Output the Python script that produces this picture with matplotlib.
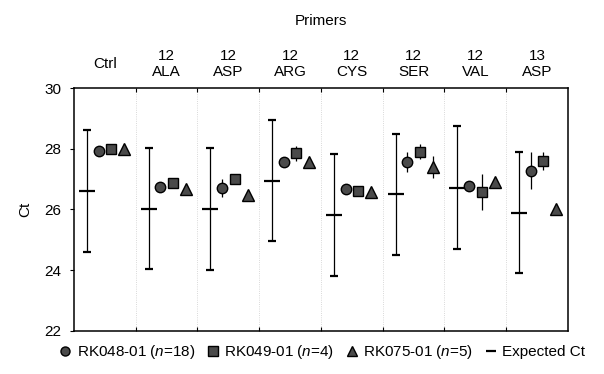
import numpy as np
import matplotlib
matplotlib.use("Agg")
import matplotlib.pyplot as plt
import matplotlib.transforms as mtransforms
from matplotlib.lines import Line2D

plt.rcParams['font.family'] = ['Liberation Sans', 'DejaVu Sans']
plt.rcParams['mathtext.fontset'] = 'custom'
plt.rcParams['mathtext.it'] = 'Liberation Sans:italic'
plt.rcParams['mathtext.rm'] = 'Liberation Sans'

### data
primers = ['Ctrl', '12\nALA', '12\nASP', '12\nARG', '12\nCYS', '12\nSER', '12\nVAL', '13\nASP']
expected = [26.61, 26.03, 26.02, 26.95, 25.82, 26.50, 26.72, 25.90]
expected_err = [2.0, 2.0, 2.0, 2.0, 2.0, 2.0, 2.03, 2.0]
rk048 = [27.93, 26.75, 26.72, 27.55, 26.66, 27.57, 26.78, 27.28]
rk048_err = [0.08, 0.08, 0.3, 0.08, 0.08, 0.33, 0.08, 0.6]
rk049 = [28.0, 26.86, 27.0, 27.85, 26.62, 27.9, 26.57, 27.6]
rk049_err = [0.05, 0.08, 0.1, 0.25, 0.15, 0.25, 0.6, 0.3]
rk075 = [28.0, 26.68, 26.48, 27.55, 26.59, 27.4, 26.92, 26.0]
rk075_err = [0.0, 0.0, 0.0, 0.0, 0.0, 0.35, 0.0, 0.0]
legend_labels = [r'RK048-01 ($\it{n}$=18)', r'RK049-01 ($\it{n}$=4)',
                 r'RK075-01 ($\it{n}$=5)', 'Expected Ct']

fig = plt.figure(figsize=(6.04, 3.74), dpi=100)
ax = fig.add_axes([0.1225, 0.115, 0.8179, 0.6497])
g = np.arange(len(primers))

fill = '#4a4a4a'
ms = 7.5
ax.errorbar(g + 0.21, expected, yerr=expected_err, fmt='_', color='black',
            markersize=12, markeredgewidth=1.6, elinewidth=0.9, capsize=3, capthick=0.9)
ax.errorbar(g + 0.40, rk048, yerr=rk048_err, fmt='o', color='black', mfc=fill, mec='black',
            markersize=ms, elinewidth=0.9, capsize=0)
ax.errorbar(g + 0.60, rk049, yerr=rk049_err, fmt='s', color='black', mfc=fill, mec='black',
            markersize=ms, elinewidth=0.9, capsize=0)
ax.errorbar(g + 0.81, rk075, yerr=rk075_err, fmt='^', color='black', mfc=fill, mec='black',
            markersize=ms + 0.5, elinewidth=0.9, capsize=0)

for b in range(1, len(primers)):
    ax.axvline(b, color='0.8', linestyle=':', linewidth=0.6, zorder=0)

ax.set_xlim(0, len(primers))
ax.set_ylim(22, 30)
ax.set_yticks([22, 24, 26, 28, 30])
ax.set_xticks(np.arange(1, len(primers)))
ax.tick_params(axis='x', which='both', direction='in', length=3, top=True, labelbottom=False)
ax.tick_params(axis='y', direction='out', length=3, labelsize=11, pad=6)
for s in ax.spines.values():
    s.set_linewidth(1.1)
ax.set_ylabel('Ct', fontsize=11, labelpad=9)

trans = mtransforms.blended_transform_factory(ax.transData, ax.transAxes)
for i, lab in enumerate(primers):
    ax.text(i + 0.5, 1.1, lab, transform=trans, ha='center', va='center',
            fontsize=11, linespacing=1.2)
ax.text(0.5, 1.275, 'Primers', transform=ax.transAxes, ha='center', va='center', fontsize=11)

handles = [
    Line2D([], [], marker='o', linestyle='none', mfc=fill, mec='black', markersize=6.5),
    Line2D([], [], marker='s', linestyle='none', mfc=fill, mec='black', markersize=6.5),
    Line2D([], [], marker='^', linestyle='none', mfc=fill, mec='black', markersize=7),
    Line2D([], [], marker='_', linestyle='none', color='black', markersize=7, markeredgewidth=1.6),
]
fig.legend(handles, legend_labels, loc='center', bbox_to_anchor=(0.535, 0.058), ncol=4,
           frameon=False, fontsize=11, handlelength=0.6, handletextpad=0.45,
           columnspacing=0.85, borderaxespad=0)

fig.savefig('out.png', dpi=100)
